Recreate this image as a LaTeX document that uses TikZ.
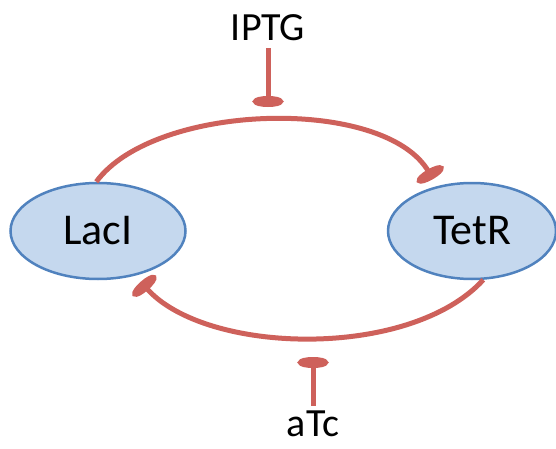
\documentclass[tikz,border=0pt]{standalone}
\usepackage{fontspec}
\setmainfont{Carlito}
\usetikzlibrary{shapes.geometric,arrows.meta}
\definecolor{loopred}{RGB}{206,97,91}
\definecolor{genefill}{RGB}{197,216,238}
\definecolor{geneedge}{RGB}{80,130,190}
\begin{document}
\begin{tikzpicture}[x=1pt,y=-1pt,
    gene/.style={ellipse, draw=geneedge, line width=2.5pt, fill=genefill,
                 inner sep=0pt, minimum height=96pt, font=\fontsize{44}{48}\selectfont},
    inhib/.style={draw=loopred, line width=5pt, -{Ellipse[length=11pt,width=30pt]}},
    drug/.style={inner sep=0pt, font=\fontsize{40}{44}\selectfont}]
        \useasboundingbox (0,0) rectangle (556,449);

        % Repressors
        \node[gene, minimum width=175pt] (lacI) at (98,231) {LacI};
        \node[gene, minimum width=168pt] (tetR) at (472,231) {TetR};

        % Inducers
        \node[drug] (iptg) at (268,28) {IPTG};
        \node[drug] (atc) at (313,424) {aTc};
        \coordinate (iptgBar) at (268,107);
        \coordinate (atcBar) at (313,357);

        % Mutual repression
        \draw[inhib, shorten >=8pt] (lacI.92) .. controls (155,102) and (385,96) .. (tetR.128);
        \draw[inhib, shorten >=8pt] (tetR.-77) .. controls (410,360) and (205,355) .. (lacI.-50);

        % Inducers block the repression
        \draw[inhib, shorten <=7pt] (iptg) -- (iptgBar);
        \draw[inhib, shorten <=5pt] (atc) -- (atcBar);
\end{tikzpicture}
\end{document}
